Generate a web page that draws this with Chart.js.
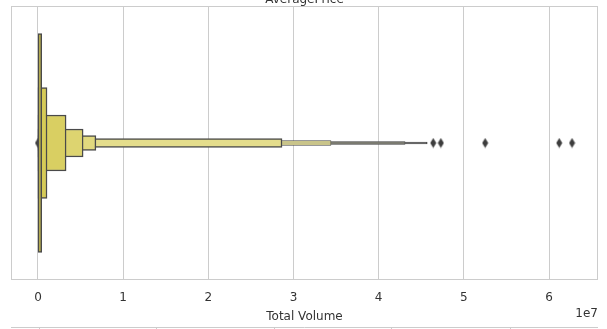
<!DOCTYPE html>
<html>
<head>
<meta charset="utf-8">
<script src="https://cdn.jsdelivr.net/npm/chart.js@4/dist/chart.umd.min.js"></script>
<style>
  html, body { margin: 0; padding: 0; background: #fff; }
  #wrap { width: 607px; height: 329px; position: relative; }
</style>
</head>
<body>
<div id="wrap"><canvas id="boxen"></canvas></div>
<script>
// Letter-value boxes for Total Volume (innermost first), raw units
const boxLow  = [10840, 3000, 1000, 500, 300, 150, 100, 90, 85];
const boxHigh = [432962, 1060000, 3300000, 5300000, 6800000, 28650000, 34400000, 43100000, 45700000];
// Outliers beyond the last letter value
const outliers = [85, 46400000, 47300000, 52500000, 61200000, 62700000];
const tickValues = [0, 1e7, 2e7, 3e7, 4e7, 5e7, 6e7];
const category = ['Total Volume'];

// box heights in px and fill colours, per level
const boxThickness = [219, 111, 56, 28, 15, 9, 5, 3, 2];
const boxColors = ['#d4c850', '#d6cb57', '#d9cf62', '#ddd470', '#e1d97e', '#e4dd8c', '#c9c48a', '#7a7a70', '#5a5a5a'];

// thin diamond marker like seaborn's 'd'
function diamondMarker() {
    const c = document.createElement('canvas');
    c.width = 7; c.height = 11;
    const g = c.getContext('2d');
    g.fillStyle = '#3d3d3d';
    g.beginPath();
    g.moveTo(3.5, 0.5);
    g.lineTo(6.5, 5.5);
    g.lineTo(3.5, 10.5);
    g.lineTo(0.5, 5.5);
    g.closePath();
    g.fill();
    return c;
}

const datasets = boxLow.map((lo, i) => ({
    type: 'bar',
    data: [[lo, boxHigh[i]]],
    backgroundColor: boxColors[i],
    borderColor: '#4a4a4a',
    borderWidth: i < 6 ? 1.5 : 0.8,
    borderSkipped: false,
    barThickness: boxThickness[i],
    grouped: false,
    order: i + 1
}));

datasets.push({
    type: 'scatter',
    data: outliers.map(v => ({ x: v, y: 0 })),
    pointStyle: diamondMarker(),
    pointRadius: 5,
    order: 100
});

// frame around the plot, clipped title of the panel above, offset text, next panel's top
const decor = {
    id: 'decor',
    beforeDatasetsDraw(chart) {
        const { ctx, chartArea: a } = chart;
        ctx.save();
        ctx.strokeStyle = '#cccccc';
        ctx.lineWidth = 1;
        ctx.strokeRect(a.left + 0.5, a.top + 0.5, a.right - a.left - 1, a.bottom - a.top - 1);
        ctx.restore();
    },
    afterDraw(chart) {
        const { ctx, chartArea: a } = chart;
        ctx.save();
        ctx.fillStyle = '#333333';
        ctx.font = '12px "DejaVu Sans"';
        ctx.textAlign = 'center';
        ctx.textBaseline = 'alphabetic';
        ctx.fillText('AveragePrice', (a.left + a.right) / 2, 3);
        ctx.textAlign = 'right';
        ctx.textBaseline = 'middle';
        ctx.fillText('1e7', a.right, 314);
        // top edge of the next subplot
        ctx.strokeStyle = '#cccccc';
        ctx.lineWidth = 1;
        ctx.beginPath();
        ctx.moveTo(a.left, 327.5);
        ctx.lineTo(a.right, 327.5);
        [0.048, 0.247, 0.448, 0.648, 0.85].forEach(f => {
            const x = Math.round(a.left + f * (a.right - a.left)) + 0.5;
            ctx.moveTo(x, 327.5);
            ctx.lineTo(x, 329);
        });
        ctx.stroke();
        ctx.restore();
    }
};

new Chart(document.getElementById('boxen'), {
    data: { labels: category, datasets: datasets },
    options: {
        indexAxis: 'y',
        responsive: true,
        maintainAspectRatio: false,
        animation: false,
        layout: { padding: { left: 11, right: 9, top: 6, bottom: 0 } },
        plugins: {
            legend: { display: false },
            tooltip: { enabled: false }
        },
        scales: {
            x: {
                type: 'linear',
                min: -3170000,
                max: 65750000,
                afterBuildTicks: scale => { scale.ticks = tickValues.map(v => ({ value: v })); },
                afterFit: scale => { scale.height = 49; },
                border: { display: false },
                grid: { color: '#cccccc', lineWidth: 1, drawTicks: false },
                ticks: {
                    padding: 11,
                    color: '#333333',
                    font: { family: 'DejaVu Sans', size: 12 },
                    callback: v => String(v / 1e7)
                },
                title: {
                    display: true,
                    text: 'Total Volume',
                    color: '#333333',
                    font: { family: 'DejaVu Sans', size: 12 },
                    padding: { top: 0, bottom: 5 }
                }
            },
            y: {
                type: 'category',
                display: false,
                offset: true
            }
        }
    },
    plugins: [decor]
});
</script>
</body>
</html>
